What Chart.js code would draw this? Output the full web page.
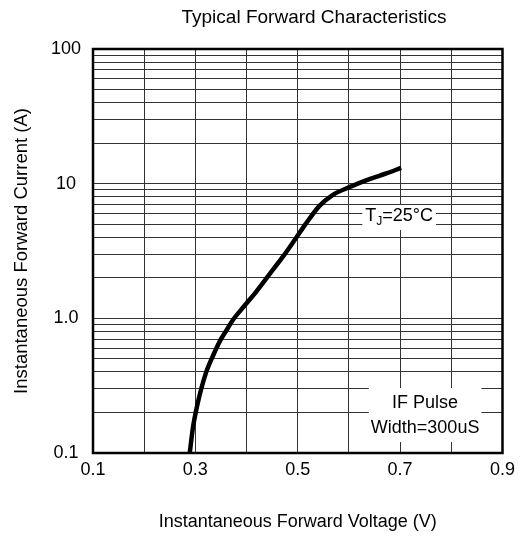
<!DOCTYPE html>
<html><head><meta charset="utf-8">
<script src="https://cdn.jsdelivr.net/npm/chart.js@4/dist/chart.umd.min.js"></script>
<style>html,body{margin:0;padding:0;background:#fff}#wrap{width:521px;height:536px;position:relative}</style>
</head><body><div id="wrap"><canvas id="c"></canvas></div>
<script>
const chartTitle = 'Typical Forward Characteristics';
const xTitle = 'Instantaneous Forward Voltage (V)';
const yTitle = 'Instantaneous Forward Current (A)';
const voltage = [0.289, 0.295, 0.303, 0.3115, 0.321, 0.334, 0.350, 0.363, 0.373, 0.396, 0.419, 0.445, 0.471, 0.497, 0.516, 0.542, 0.568, 0.601, 0.640, 0.673, 0.702];
const current = [0.100, 0.152, 0.220, 0.300, 0.397, 0.523, 0.700, 0.840, 0.969, 1.24, 1.58, 2.13, 2.87, 3.97, 5.05, 6.81, 8.23, 9.42, 10.8, 11.9, 13.1];
const xGridValues = [0.1, 0.2, 0.3, 0.4, 0.5, 0.6, 0.7, 0.8, 0.9];
const xTickValues = [0.1, 0.3, 0.5, 0.7, 0.9];
const xTickLabels = ['0.1', '0.3', '0.5', '0.7', '0.9'];
const yDecades = [0.1, 1, 10];
const yTickValues = [0.1, 1, 10, 100];
const yTickLabels = ['0.1', '1.0', '10', '100'];
const noteTemp = ['T', 'J', '=25°C'];
const notePulse = ['IF Pulse', 'Width=300uS'];

const FONT = '"Liberation Sans", Arial, Helvetica, sans-serif';

const yGridValues = [];
yDecades.forEach(d => { for (let k = 1; k <= 9; k++) yGridValues.push(Number((d * k).toPrecision(3))); });
yGridValues.push(100);

function labelFor(v, vals, labels) {
  for (let i = 0; i < vals.length; i++) {
    if (Math.abs(v - vals[i]) / vals[i] < 1e-6) return labels[i];
  }
  return '';
}

const decor = {
  id: 'decor',
  afterDraw(chart) {
    const { ctx, chartArea: a, scales: { x } } = chart;
    ctx.save();
    ctx.fillStyle = '#000';
    ctx.textBaseline = 'alphabetic';
    // title
    ctx.font = `19px ${FONT}`;
    ctx.textAlign = 'center';
    ctx.fillText(chartTitle, a.left + 221, 23);

    // TJ=25°C label
    const cx1 = x.getPixelForValue(0.7) - 1;
    const by1 = a.top + 172;
    ctx.font = `18px ${FONT}`;
    const wT = ctx.measureText(noteTemp[0]).width;
    const wR = ctx.measureText(noteTemp[2]).width;
    ctx.font = `12px ${FONT}`;
    const wJ = ctx.measureText(noteTemp[1]).width;
    const tot = wT + wJ + wR;
    let sx = cx1 - tot / 2;
    ctx.fillStyle = '#fff';
    ctx.fillRect(sx - 3, a.top + 156, tot + 6, 25);
    ctx.fillStyle = '#000';
    ctx.textAlign = 'left';
    ctx.font = `18px ${FONT}`;
    ctx.fillText(noteTemp[0], sx, by1);
    ctx.font = `12px ${FONT}`;
    ctx.fillText(noteTemp[1], sx + wT, by1 + 4);
    ctx.font = `18px ${FONT}`;
    ctx.fillText(noteTemp[2], sx + wT + wJ, by1);

    // IF pulse label
    const cx2 = x.getPixelForValue(0.7) + 25;
    ctx.font = `18px ${FONT}`;
    const mw = Math.max(...notePulse.map(t => ctx.measureText(t).width));
    ctx.fillStyle = '#fff';
    ctx.fillRect(cx2 - mw / 2 - 2, a.top + 339, mw + 4, 54);
    ctx.fillStyle = '#000';
    ctx.textAlign = 'center';
    ctx.fillText(notePulse[0], cx2, a.top + 359);
    ctx.fillText(notePulse[1], cx2, a.top + 383.5);

    // frame
    ctx.strokeStyle = '#000';
    ctx.lineWidth = 2.5;
    ctx.strokeRect(a.left, a.top, a.right - a.left, a.bottom - a.top);
    ctx.restore();
  }
};

new Chart(document.getElementById('c'), {
  type: 'line',
  data: {
    datasets: [{
      data: voltage.map((v, i) => ({ x: v, y: current[i] })),
      borderColor: '#000',
      borderWidth: 4.5,
      pointRadius: 0,
      cubicInterpolationMode: 'monotone',
      fill: false
    }]
  },
  options: {
    responsive: true,
    maintainAspectRatio: false,
    animation: false,
    layout: { padding: { top: 49, right: 18, bottom: 0, left: 0 } },
    plugins: { legend: { display: false }, tooltip: { enabled: false }, title: { display: false } },
    scales: {
      x: {
        type: 'linear', min: 0.1, max: 0.9,
        afterBuildTicks: s => { s.ticks = xGridValues.map(v => ({ value: v })); },
        afterFit: s => { s.height = 83; },
        ticks: {
          autoSkip: false, maxRotation: 0, padding: 6, color: '#000',
          font: { family: FONT, size: 18 },
          callback: v => labelFor(v, xTickValues, xTickLabels)
        },
        grid: { color: '#333', lineWidth: 1, drawTicks: false },
        border: { display: false },
        title: { display: true, text: xTitle, color: '#000', font: { family: FONT, size: 18 }, padding: { top: 0, bottom: 3 } }
      },
      y: {
        type: 'logarithmic', min: 0.1, max: 100,
        afterBuildTicks: s => { s.ticks = yGridValues.map(v => ({ value: v })); },
        afterFit: s => { s.width = 93; },
        ticks: {
          autoSkip: false, padding: 12, crossAlign: 'center', color: '#000',
          font: { family: FONT, size: 18 },
          callback: v => labelFor(v, yTickValues, yTickLabels)
        },
        grid: { color: '#333', lineWidth: 1, drawTicks: false },
        border: { display: false },
        title: { display: true, text: yTitle, color: '#000', font: { family: FONT, size: 18.5 }, padding: { top: 11, bottom: 0 } }
      }
    }
  },
  plugins: [decor]
});
</script>
</body></html>
